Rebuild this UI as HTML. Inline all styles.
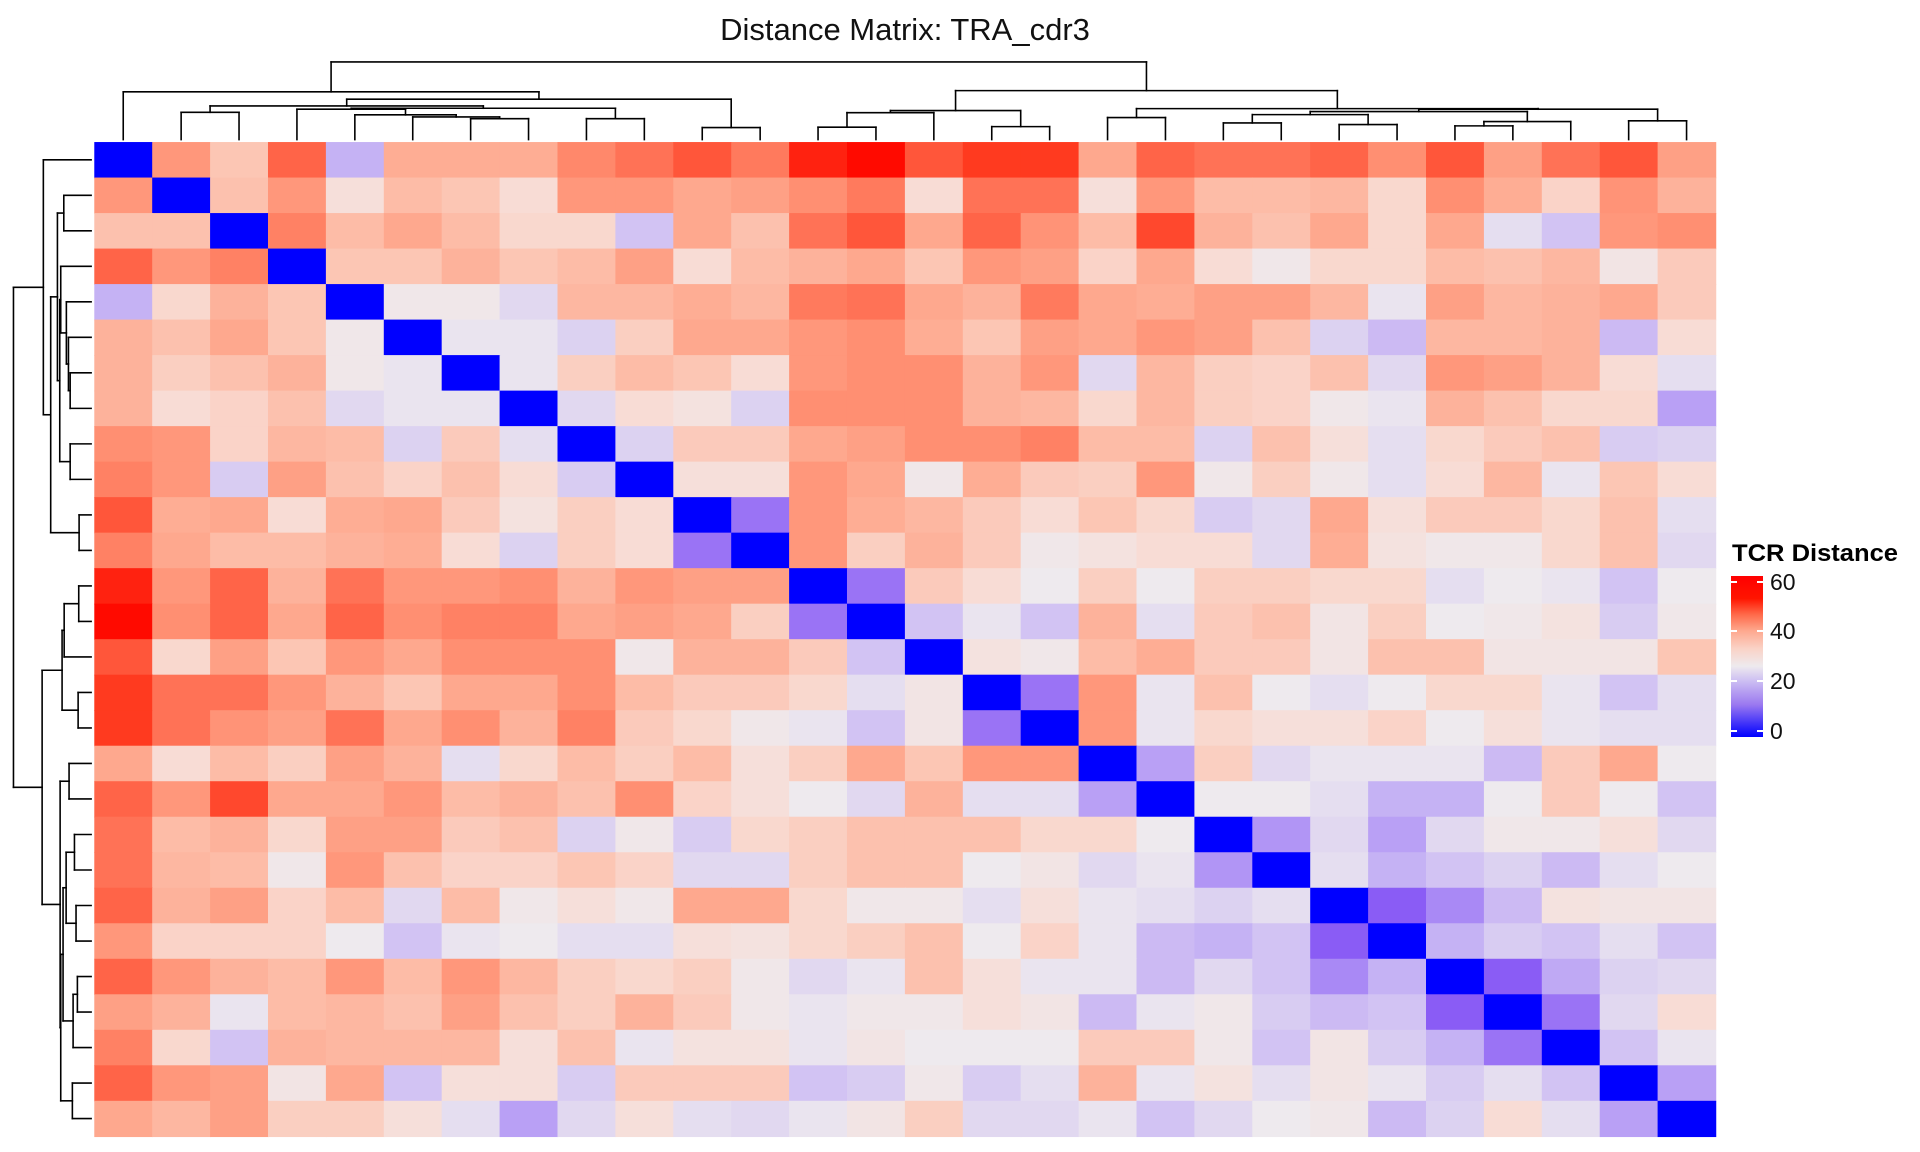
<!DOCTYPE html>
<html><head><meta charset="utf-8"><style>
html,body{margin:0;padding:0;background:#fff}
svg{display:block}
</style></head><body>
<svg id="s" width="1920" height="1152" viewBox="0 0 1920 1152" xmlns="http://www.w3.org/2000/svg">
<defs>
<linearGradient id="lg" x1="0" y1="1" x2="0" y2="0">
<stop offset="0" stop-color="#0000ff"/>
<stop offset="0.2" stop-color="#9a78f0"/>
<stop offset="0.35" stop-color="#cdbff2"/>
<stop offset="0.44" stop-color="#eeeaee"/>
<stop offset="0.55" stop-color="#fad2c6"/>
<stop offset="0.66" stop-color="#fea88e"/>
<stop offset="0.76" stop-color="#ff6a4a"/>
<stop offset="0.86" stop-color="#ff1500"/>
<stop offset="1" stop-color="#ff0000"/>
</linearGradient>
</defs>
<text x="905" y="40" font-family="Liberation Sans, sans-serif" font-size="31" text-anchor="middle" fill="#111">Distance Matrix: TRA_cdr3</text>
<g id="hm" transform="scale(1.22449)"></g>
<text x="1732" y="561" font-family="Liberation Sans, sans-serif" font-size="24" font-weight="bold" fill="#000" textLength="166" lengthAdjust="spacingAndGlyphs">TCR Distance</text>
<rect x="1731" y="576" width="32" height="161" fill="url(#lg)"/>
<g stroke="#fff" stroke-width="2">
<line x1="1731" y1="582" x2="1737" y2="582"/><line x1="1757" y1="582" x2="1763" y2="582"/>
<line x1="1731" y1="631" x2="1737" y2="631"/><line x1="1757" y1="631" x2="1763" y2="631"/>
<line x1="1731" y1="681" x2="1737" y2="681"/><line x1="1757" y1="681" x2="1763" y2="681"/>
<line x1="1731" y1="731" x2="1737" y2="731"/><line x1="1757" y1="731" x2="1763" y2="731"/>
</g>
<g font-family="Liberation Sans, sans-serif" font-size="23" fill="#111">
<text x="1770" y="590">60</text><text x="1770" y="639">40</text><text x="1770" y="689">20</text><text x="1770" y="739">0</text>
</g>
</svg>
<script>
var V=[
[0,42,32,50,14,37,37,37,45,48,52,47,58,60,52,56,56,38,50,48,48,50,44,52,40,48,52,40],
[42,0,33,42,26,34,32,27,42,42,38,40,44,47,27,48,48,26,42,34,34,35,28,44,37,29,43,36],
[33,33,0,46,34,38,34,28,28,16,38,33,48,52,38,50,43,34,54,36,33,38,28,38,20,16,42,44],
[50,42,46,0,32,32,36,32,34,40,27,34,36,38,32,42,40,29,38,27,23,28,28,34,33,35,24,31],
[14,28,36,32,0,23,23,19,35,35,37,35,47,48,38,36,47,38,37,40,40,35,21,40,35,36,38,31],
[36,33,38,32,23,0,21,21,18,30,38,38,42,44,37,32,40,38,42,40,33,18,15,35,35,36,15,27],
[36,30,33,36,23,21,0,21,30,34,32,27,42,44,44,36,42,19,35,30,29,33,19,42,40,36,27,20],
[36,27,29,33,19,21,21,0,19,27,25,18,44,44,44,36,35,28,35,30,29,23,21,36,33,28,28,12],
[44,42,29,35,34,18,31,20,0,18,31,31,38,40,44,44,46,34,34,18,33,26,20,28,31,33,17,18],
[46,42,17,40,33,29,33,27,17,0,26,26,42,38,23,37,31,30,42,23,30,23,20,27,35,21,32,27],
[52,37,38,27,37,38,31,25,30,27,0,8,42,37,35,31,27,32,28,17,19,38,26,31,31,28,33,20],
[46,38,34,34,36,37,27,18,30,27,8,0,42,30,36,31,23,25,27,27,19,37,25,23,23,28,33,19],
[58,42,50,36,48,42,42,44,36,42,40,40,0,8,31,27,22,30,22,30,30,28,28,20,22,21,16,22],
[60,44,50,38,50,44,46,46,38,40,38,30,8,0,16,21,16,36,20,31,33,24,30,22,23,25,17,23],
[52,28,40,32,42,38,44,44,44,23,36,36,31,16,0,25,23,34,37,31,31,24,33,33,24,24,24,32],
[56,48,48,42,36,32,38,38,44,34,31,31,28,20,24,0,8,42,21,33,22,20,22,28,28,21,16,20],
[56,48,43,40,48,38,44,36,46,31,28,23,21,16,24,8,0,42,21,28,26,26,29,22,26,21,20,20],
[38,27,34,30,40,36,20,28,34,30,34,26,30,38,32,42,42,0,12,30,19,21,21,21,15,31,38,22],
[50,42,54,38,38,42,34,36,33,44,29,26,22,19,36,20,20,12,0,22,22,20,14,14,22,31,22,16],
[48,34,36,28,40,40,31,33,18,23,17,28,30,33,33,33,28,28,22,0,11,19,12,19,23,23,26,19],
[48,35,34,23,42,33,29,29,32,29,19,19,30,33,33,22,24,19,21,11,0,20,14,16,18,15,20,22],
[50,36,40,29,34,19,34,23,26,23,38,38,28,23,23,20,26,21,20,18,20,0,6,10,15,25,24,24],
[42,29,29,29,22,16,21,22,20,20,26,25,28,30,33,22,29,21,15,14,16,6,0,14,17,16,20,16],
[50,42,36,34,42,34,42,35,30,28,30,23,19,21,33,26,21,21,15,19,16,10,14,0,6,13,18,19],
[40,36,21,34,35,33,40,33,30,36,31,23,21,23,23,26,24,15,21,23,17,15,16,6,0,8,19,27],
[46,28,16,36,35,35,35,26,33,21,25,25,21,24,22,22,22,31,31,23,16,24,17,14,8,0,16,21],
[50,42,40,24,38,16,26,26,17,31,31,31,16,17,23,17,20,36,21,25,20,24,21,17,20,16,0,12],
[38,35,40,30,30,26,20,12,19,26,20,19,21,24,30,19,19,21,16,19,22,23,15,18,27,20,12,0]];
var S=[[0,[0,0,255]],[6,[138,92,245]],[12,[185,160,245]],[17,[216,204,242]],[22,[238,234,238]],[27,[248,220,213]],[32,[252,198,180]],[38,[254,168,142]],[44,[255,143,114]],[50,[255,100,72]],[56,[255,58,31]],[60,[255,10,0]]];
function col(v){for(var i=1;i<S.length;i++){if(v<=S[i][0]){var a=S[i-1],b=S[i],t=(v-a[0])/(b[0]-a[0]);return 'rgb('+[0,1,2].map(function(k){return Math.round(a[1][k]+t*(b[1][k]-a[1][k]))}).join(',')+')';}}return 'rgb(255,10,0)';}
var X0=77,Y0=116,CW=(1401-77)/28,CH=(928-116)/28,h='';
for(var r=0;r<28;r++)for(var c=0;c<28;c++){h+='<rect x="'+(X0+c*CW).toFixed(2)+'" y="'+(Y0+r*CH).toFixed(2)+'" width="'+(CW+0.6).toFixed(2)+'" height="'+(CH+0.6).toFixed(2)+'" fill="'+col(V[r][c])+'"/>';}
function N(a,b,hh){return {a:a,b:b,h:hh};}
var t=N(
 N(1,N(N(N(2,3,91.7),N(N(4,N(5,N(6,N(7,8,96.9),95.5),93.8),89.2),N(9,10,96.9),88.4),86.5),N(11,12,104.2),81),75),
 N(N(N(N(13,14,103.9),15,92),N(16,17,103.4),90.3),
   N(N(18,19,96),N(N(N(N(20,21,100.4),N(22,23,101.7),93.6),N(N(24,25,102.8),26,99.3),91.1),N(27,28,98.7),89.2),88.7),74),
 50.6);
var segs=[];var LEAF=114;
function walk(n){if(typeof n==='number')return [n-0.5,LEAF];var A=walk(n.a),B=walk(n.b);
segs.push([A[0],A[1],A[0],n.h]);segs.push([B[0],B[1],B[0],n.h]);segs.push([A[0],n.h,B[0],n.h]);return [(A[0]+B[0])/2,n.h];}
walk(t);
var d='';
segs.forEach(function(s){
 d+='<line x1="'+(X0+s[0]*CW).toFixed(2)+'" y1="'+s[1]+'" x2="'+(X0+s[2]*CW).toFixed(2)+'" y2="'+s[3]+'"/>';
 d+='<line y1="'+(Y0+s[0]*CH).toFixed(2)+'" x1="'+(s[1]-39.6).toFixed(2)+'" y2="'+(Y0+s[2]*CH).toFixed(2)+'" x2="'+(s[3]-39.6).toFixed(2)+'"/>';
});
document.getElementById('hm').innerHTML=h+'<g stroke="#000" stroke-width="1.3" stroke-linecap="square">'+d+'</g>';
</script>
</body></html>
